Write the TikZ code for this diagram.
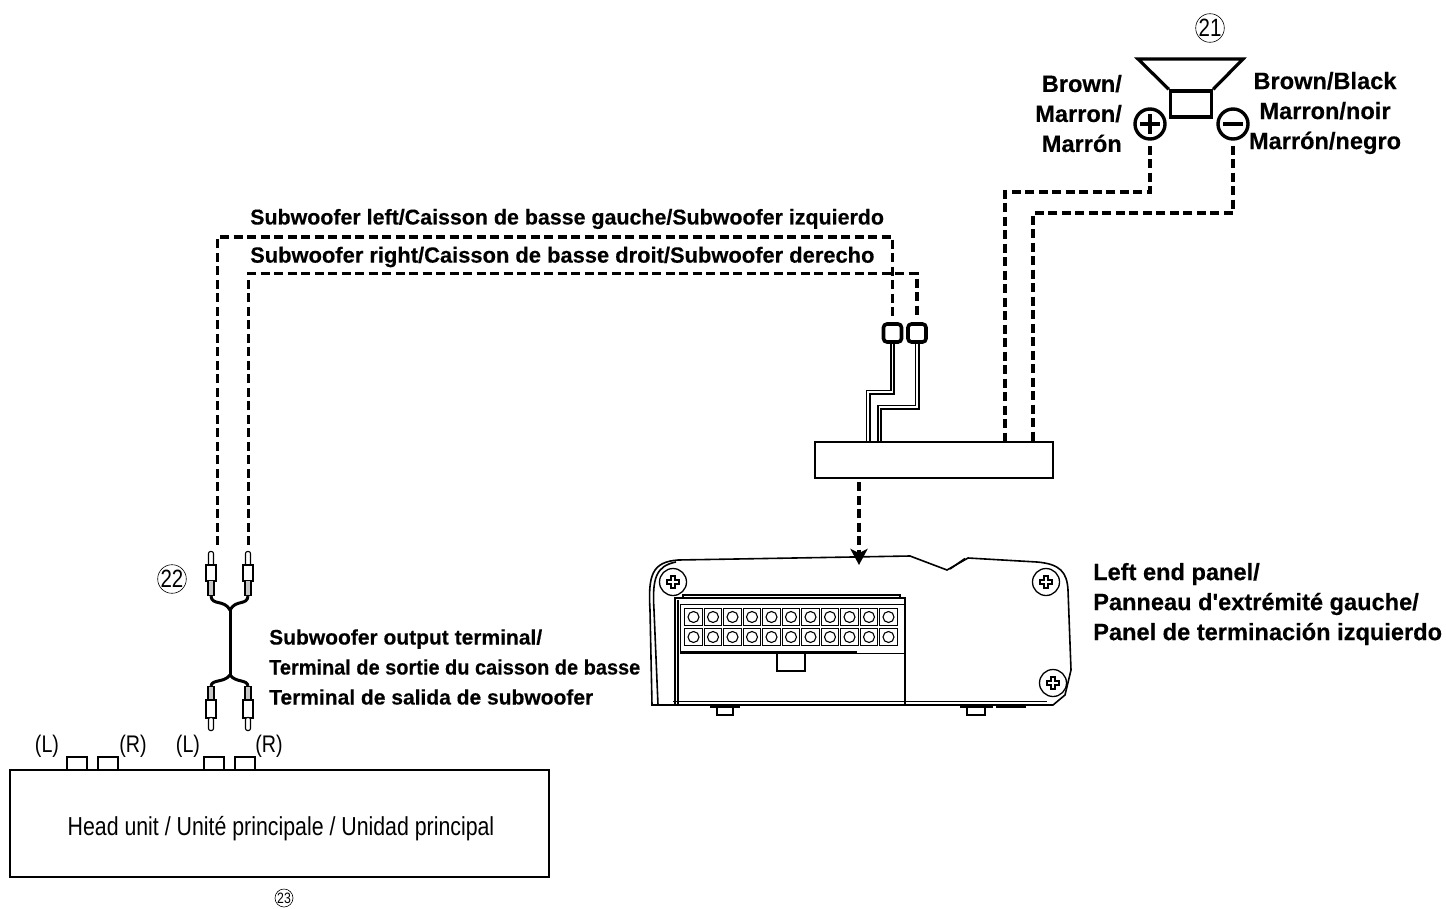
\documentclass[tikz,border=0pt]{standalone}
\usepackage{fontspec}
\setmainfont{Liberation Sans}
\newfontfamily\narrowfont[FakeStretch=0.82]{Liberation Sans}
\newfontfamily\labelfont[BoldFeatures={FakeBold=0.35}]{Liberation Sans}
\usetikzlibrary{arrows.meta}
\tikzset{
    wire/.style = {line width = 3.6pt, dash pattern = on 9pt off 4.5pt},
    twin wire/.style = {double = white, double distance = 1.8pt, line width = 1.6pt},
    label text/.style = {font = \fontsize{23.6}{30}\selectfont\labelfont\bfseries, inner sep = 0pt},
    wire text/.style = {font = \fontsize{21.4}{30}\selectfont\labelfont\bfseries, inner sep = 0pt},
    thin text/.style = {font = \fontsize{24}{28}\selectfont\narrowfont, inner sep = 0pt},
    number/.style = {draw, circle, line width = 0.6pt, inner sep = 0pt, font = \fontsize{25}{25}\selectfont\narrowfont},
    sub connector/.style = {draw, rectangle, rounded corners = 3.5pt, line width = 3.6pt, minimum size = 18pt, inner sep = 0pt},
    terminal/.style = {draw, circle, line width = 3.4pt, minimum size = 30pt, inner sep = 0pt},
    port/.style = {draw, rectangle, line width = 2.2pt, minimum width = 20pt, minimum height = 13pt, inner sep = 0pt},
    screw/.style = {draw, circle, line width = 1.3pt, fill = white, minimum size = 27pt, inner sep = 0pt},
    pin/.style = {draw, rectangle, line width = 1.2pt, minimum size = 17.5pt, inner sep = 0pt},
    pin hole/.style = {draw, circle, line width = 1.1pt, minimum size = 11pt, inner sep = 0pt},
    plug part/.style = {draw, rectangle, line width = 1.1pt, inner sep = 0pt, fill = white},
    cable/.style = {line width = 3pt}
}
\begin{document}
\begin{tikzpicture}[x = 1pt, y = -1pt]
    \useasboundingbox (0, 0) rectangle (1446, 908);

    % speaker
    \node at (1210, 28) [number, minimum size = 27pt] (num21) {21};
    \node at (1191, 104) [draw, rectangle, line width = 3.4pt, minimum width = 41pt, minimum height = 26pt, inner sep = 0pt] (magnet) {};
    \draw [line width = 3.2pt, line join = miter] (magnet.north west) -- (1138, 59) -- (1243, 59) -- (magnet.north east);
    \node at (1150, 124) [terminal] (plus) {};
    \node at (1233, 124) [terminal] (minus) {};
    \draw [line width = 3.2pt] (1140, 124) -- (1160, 124);
    \draw [line width = 3.2pt] (1150, 114) -- (1150, 134);
    \draw [line width = 3.2pt] (1223, 124) -- (1243, 124);
    \node at (1122, 113.5) [label text, anchor = east, align = right] (brownplus) {Brown/\\Marron/\\Marrón};
    \node at (1325, 113) [label text, align = center] (brownminus) {Brown/Black\\Marron/noir\\Marrón/negro};

    % wiring box and connectors
    \node at (934, 460) [draw, rectangle, line width = 1.8pt, minimum width = 238pt, minimum height = 36pt, inner sep = 0pt] (box) {};
    \node at (892.5, 333) [sub connector] (connL) {};
    \node at (917, 333) [sub connector] (connR) {};
    \coordinate (bendplus) at (1005, 192);
    \coordinate (bendminus) at (1033, 213);
    \coordinate (bendA) at (868, 392);
    \coordinate (bendB) at (879.5, 407);
    \coordinate (turnL) at (892.5, 237);
    \coordinate (turnR) at (917, 273.5);
    \coordinate (endL) at (217.5, 545);
    \coordinate (endR) at (248.5, 545);

    \draw [wire, shorten <= 5pt] (plus.south) |- (bendplus) -- (bendplus |- box.north);
    \draw [wire, shorten <= 5pt] (minus.south) |- (bendminus) -- (bendminus |- box.north);
    \draw [twin wire] (connL.south) |- (bendA) -- (bendA |- box.north);
    \draw [twin wire] (connR.south) |- (bendB) -- (bendB |- box.north);
    \draw [wire, shorten >= 5pt] (endL) |- (turnL) -- (connL.north);
    \draw [wire, shorten >= 5pt] (endR) |- (turnR) -- (connR.north);

    \node at (250, 219) [wire text, anchor = west] (leftlabel) {Subwoofer left/Caisson de basse gauche/Subwoofer izquierdo};
    \node at (250, 257) [wire text, anchor = west] (rightlabel) {\fontsize{21.9}{30}\selectfont Subwoofer right/Caisson de basse droit/Subwoofer derecho};

    % left end panel
    \coordinate (panelmark) at (859, 565);
    \draw [wire, -{Stealth[length = 16pt, width = 17pt, inset = 4pt]}] (859, 482) -- (panelmark);
    \draw [line width = 1.6pt] (652, 705) -- (650, 610) .. controls (648, 575) and (652, 562) .. (678, 560) -- (910, 556) -- (947, 570) -- (968, 558) -- (1037, 562) .. controls (1060, 564) and (1067, 572) .. (1068, 590) -- (1071, 670) -- (1065, 695) -- (1053, 705) -- cycle;
    \draw [line width = 1.6pt] (950, 569) -- (965, 558.5);
    \draw [line width = 1.6pt] (658, 705) -- (654, 610) .. controls (652, 578) and (656, 566) .. (676, 562);
    \draw [line width = 0.8pt] (673, 701) -- (1047, 701);
    \foreach \name/\sx/\sy in {screwA/673/582, screwB/1046/582, screwC/1053/683} {
        \node at (\sx, \sy) [screw] (\name) {};
        \draw [line width = 1.2pt, shift = {(\name)}] (-2, -6) -- (2, -6) -- (2, -2) -- (6, -2) -- (6, 2) -- (2, 2) -- (2, 6) -- (-2, 6) -- (-2, 2) -- (-6, 2) -- (-6, -2) -- (-2, -2) -- cycle;
    }
    \draw [line width = 1.6pt] (675, 705) -- (675, 598) -- (905, 598) -- (905, 705);
    \draw [line width = 1.2pt] (678, 705) -- (678, 600);
    \draw [line width = 1.2pt] (683, 598) -- (683, 595) -- (900, 595) -- (900, 598);
    \draw [line width = 1pt] (680, 653) -- (680, 604) -- (905, 604);
    \draw [line width = 2.4pt] (680, 652.5) -- (857, 652.5);
    \draw [line width = 1pt] (857, 653) -- (905, 653);
    \draw [line width = 1.1pt] (777, 653) -- (777, 671) -- (805, 671) -- (805, 653);
    \foreach \col in {0, ..., 10} {
        \node at (693.5 + 19.5 * \col, 617) [pin] (pinA\col) {};
        \node at (pinA\col) [pin hole] (holeA\col) {};
        \node at (693.5 + 19.5 * \col, 637) [pin] (pinB\col) {};
        \node at (pinB\col) [pin hole] (holeB\col) {};
    }
    \draw [line width = 1.2pt] (717, 706) -- (717, 715) -- (733, 715) -- (733, 706);
    \draw [line width = 1.2pt] (710, 707) -- (740, 707);
    \draw [line width = 1.2pt] (967, 706) -- (967, 715) -- (985, 715) -- (985, 706);
    \draw [line width = 1.2pt] (960, 707) -- (993, 707);
    \draw [line width = 1.2pt] (996, 707) -- (1026, 707);
    \node at (1093, 604) [label text, anchor = west, align = left] (panellabel) {Left end panel/\\Panneau d'extrémité gauche/\\Panel de terminación izquierdo};

    % rca cable
    \node at (172, 579) [number, minimum size = 27pt] (num22) {22};
    \coordinate (joinT) at (230, 610);
    \coordinate (joinB) at (230, 675);
    \foreach \name/\px in {A/211, B/248} {
        \node at (\px, 559) [plug part, rounded corners = 2pt, minimum width = 5pt, minimum height = 15pt] (tipT\name) {};
        \node at (\px, 573) [plug part, minimum width = 10pt, minimum height = 16pt, line width = 1.6pt] (bodyT\name) {};
        \node at (\px, 588) [plug part, fill = gray!45, minimum width = 6pt, minimum height = 15pt] (ribT\name) {};
        \node at (\px, 694) [plug part, fill = gray!45, minimum width = 6pt, minimum height = 15pt] (ribB\name) {};
        \node at (\px, 709) [plug part, minimum width = 10pt, minimum height = 18pt, line width = 1.6pt] (bodyB\name) {};
        \node at (\px, 724) [plug part, rounded corners = 2pt, minimum width = 5pt, minimum height = 13pt] (tipB\name) {};
    }
    \draw [cable] (ribTA.south) .. controls (212, 606) and (224, 599) .. (joinT);
    \draw [cable] (ribTB.south) .. controls (247, 606) and (236, 599) .. (joinT);
    \draw [cable] (joinT) -- (joinB);
    \draw [cable] (ribBA.north) .. controls (212, 679) and (224, 683) .. (joinB);
    \draw [cable] (ribBB.north) .. controls (247, 679) and (236, 683) .. (joinB);
    \node at (269, 667) [wire text, anchor = west, align = left, font = \fontsize{21}{30}\selectfont\labelfont\bfseries] (outputlabel) {Subwoofer output terminal/\\\scalebox{0.95}[1]{Terminal de sortie du caisson de basse}\\Terminal de salida de subwoofer};

    % head unit
    \node at (279.5, 823.5) [draw, rectangle, line width = 2.2pt, minimum width = 539pt, minimum height = 107pt, inner sep = 0pt] (headunit) {};
    \node at (281, 829) [thin text, font = \fontsize{26}{28}\selectfont\narrowfont] (headlabel) {Head unit / Unité principale / Unidad principal};
    \node at (77, 763.5) [port] (portA) {};
    \node at (108, 763.5) [port] (portB) {};
    \node at (214, 763.5) [port] (portC) {};
    \node at (245, 763.5) [port] (portD) {};
    \node at (47, 746) [thin text] (labelA) {(L)};
    \node at (133, 746) [thin text] (labelB) {(R)};
    \node at (188, 746) [thin text] (labelC) {(L)};
    \node at (269, 746) [thin text] (labelD) {(R)};
    \node at (284, 898) [number, minimum size = 18pt, font = \fontsize{15}{15}\selectfont\narrowfont] (num23) {23};
\end{tikzpicture}
\end{document}
